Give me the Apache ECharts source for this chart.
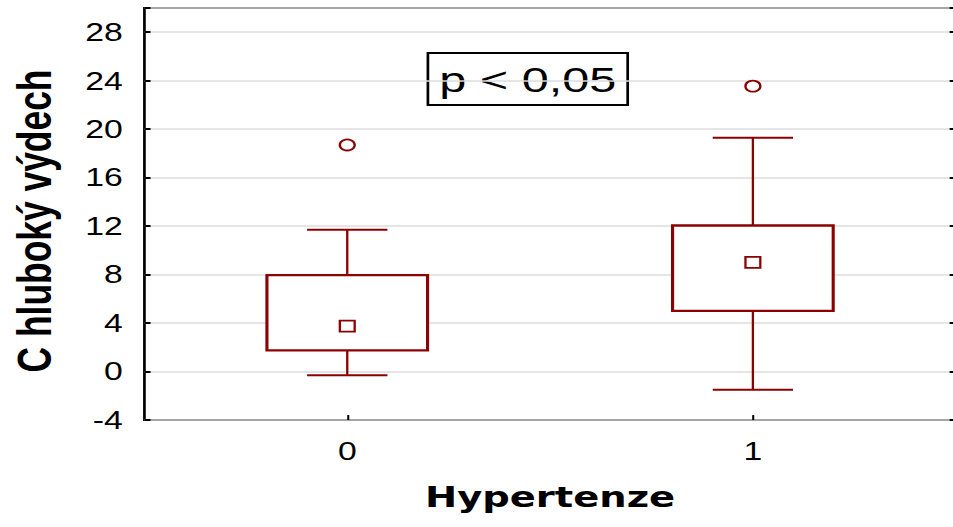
<!DOCTYPE html>
<html>
<head>
<meta charset="utf-8">
<script src="https://cdn.jsdelivr.net/npm/echarts@6/dist/echarts.min.js"></script>
<style>
  html, body { margin: 0; padding: 0; background: #fff; overflow: hidden; }
  #main { width: 706px; height: 527px; transform: scaleX(1.34986); transform-origin: 0 0; }
</style>
</head>
<body>
<div id="main"></div>
<script>
// ---- data ----
const categories   = ['0', '1'];
const whiskerLow   = [-0.3, -1.5];
const quartile1    = [1.75, 5.0];
const centerValue  = [3.75, 9.0];
const quartile3    = [7.95, 12.05];
const whiskerHigh  = [11.7, 19.3];
const outlierValue = [18.7, 23.55];
const yTicks = { min: -4, max: 30, step: 4 };
const xTitle = 'Hypertenze';
const yTitle = 'C hluboký výdech';
const pLabel = 'p < 0,05';

const RED = '#8B0000';
const boxRows = categories.map((c, i) => [i, whiskerLow[i], quartile1[i], quartile3[i], whiskerHigh[i]]);
const centerRows = categories.map((c, i) => [i, centerValue[i]]);
const outlierRows = categories.map((c, i) => [i, outlierValue[i]]);

const chart = echarts.init(document.getElementById('main'), null, { renderer: 'svg' });

const tickFont = { fontFamily: 'Liberation Sans, Arial, sans-serif', fontSize: 25, color: '#000' };

chart.setOption({
  animation: false,
  backgroundColor: '#fff',
  grid: { left: 107, right: -2, top: 8, bottom: 107, containLabel: false, outerBoundsMode: 'none', show: true, borderColor: '#000', borderWidth: 2, backgroundColor: 'transparent' },
  xAxis: {
    type: 'category',
    data: categories,
    position: 'bottom',
    name: xTitle,
    nameLocation: 'middle',
    nameGap: 63,
    nameTextStyle: { fontFamily: 'DejaVu Sans, sans-serif', fontWeight: 'bold', fontSize: 28.5, color: '#000' },
    axisLine: { show: false, onZero: false },
    axisTick: { show: true, inside: true, alignWithLabel: true, length: 5, lineStyle: { color: '#000', width: 1.5 } },
    axisLabel: Object.assign({ margin: 19 }, tickFont),
    splitLine: { show: false }
  },
  yAxis: [{
    type: 'value',
    min: yTicks.min, max: yTicks.max, interval: yTicks.step,
    name: yTitle,
    nameLocation: 'middle',
    nameGap: 64,
    nameTextStyle: { fontFamily: 'Liberation Sans, Arial, sans-serif', fontWeight: 'bold', fontSize: 35.4, color: '#000', padding: [0, 14, 0, 0] },
    axisLine: { show: false, onZero: false },
    axisTick: { show: true, inside: true, length: 4.5, lineStyle: { color: '#000', width: 2 } },
    axisLabel: Object.assign({ margin: 16, formatter: v => (v <= 28 ? String(v) : '') }, tickFont),
    splitLine: { show: true, lineStyle: { color: '#dcdcdc', width: 1.5 } }
  }, {
    type: 'value',
    position: 'right',
    min: yTicks.min, max: yTicks.max, interval: yTicks.step,
    axisLine: { show: false, onZero: false },
    axisTick: { show: true, inside: true, length: 4.5, lineStyle: { color: '#000', width: 2 } },
    axisLabel: { show: false },
    splitLine: { show: false }
  }],
  graphic: [{
    type: 'group',
    z: 100,
    children: [{
      type: 'rect',
      shape: { x: 317, y: 53, width: 148, height: 52 },
      style: { fill: '#fff', stroke: '#000', lineWidth: 2 }
    }, {
      type: 'text',
      x: 391, y: 79,
      style: { text: pLabel, fill: '#000', font: '36px "Liberation Sans", Arial, sans-serif', textAlign: 'center', textVerticalAlign: 'middle' }
    }]
  }],
  series: [{
    type: 'custom',
    z: 2,
    data: boxRows,
    encode: { x: 0, y: [1, 2, 3, 4] },
    renderItem: function (params, api) {
      const idx = api.value(0);
      const pLow = api.coord([idx, api.value(1)]);
      const pQ1 = api.coord([idx, api.value(2)]);
      const pQ3 = api.coord([idx, api.value(3)]);
      const pHigh = api.coord([idx, api.value(4)]);
      const cx = pLow[0];
      const bandW = api.size([1, 0])[0];
      const boxW = bandW * 0.396;
      const capW = boxW / 2;
      const wStyle = { stroke: RED, lineWidth: 1.7 };
      return {
        type: 'group',
        children: [
          { type: 'line', shape: { x1: cx, y1: pLow[1], x2: cx, y2: pQ1[1] }, style: wStyle },
          { type: 'line', shape: { x1: cx, y1: pQ3[1], x2: cx, y2: pHigh[1] }, style: wStyle },
          { type: 'line', shape: { x1: cx - capW / 2, y1: pLow[1], x2: cx + capW / 2, y2: pLow[1] }, style: { stroke: RED, lineWidth: 2 } },
          { type: 'line', shape: { x1: cx - capW / 2, y1: pHigh[1], x2: cx + capW / 2, y2: pHigh[1] }, style: { stroke: RED, lineWidth: 2 } },
          { type: 'rect', shape: { x: cx - boxW / 2, y: pQ3[1], width: boxW, height: pQ1[1] - pQ3[1] }, style: { fill: '#fff', stroke: RED, lineWidth: 2.3 } }
        ]
      };
    }
  }, {
    type: 'scatter',
    z: 3,
    data: centerRows,
    symbol: 'rect',
    symbolSize: 11,
    itemStyle: { color: '#fff', borderColor: RED, borderWidth: 1.7, opacity: 1 }
  }, {
    type: 'scatter',
    z: 3,
    data: outlierRows,
    symbol: 'circle',
    symbolSize: 11,
    itemStyle: { color: '#fff', borderColor: RED, borderWidth: 1.8, opacity: 1 }
  }]
});
</script>
</body>
</html>
